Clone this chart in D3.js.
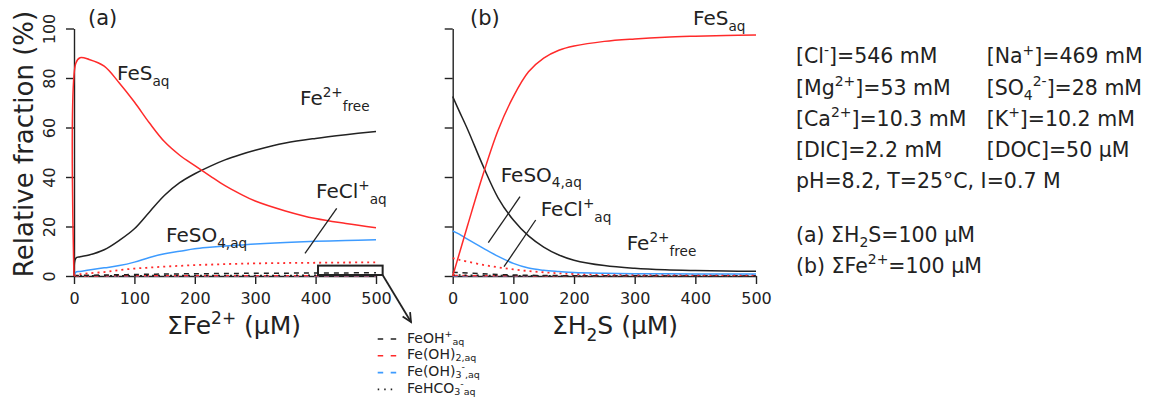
<!DOCTYPE html>
<html>
<head>
<meta charset="utf-8">
<script src="https://cdn.jsdelivr.net/npm/d3@7"></script>
<style>
  html, body { margin: 0; padding: 0; background: #fff; }
  svg { display: block; }
  text { font-family: "DejaVu Sans", Verdana, sans-serif; fill: #222; }
</style>
</head>
<body>
<svg id="chart" width="1154" height="406"></svg>
<script>
// ---------- DATA ----------
// Panel (a): x = ΣFe2+ (µM), ΣH2S = 100 µM
const xA        = [0, 3, 10, 25, 50, 75, 100, 125, 150, 175, 200, 225, 250, 275, 300, 350, 400, 450, 500];
const feS_A     = [0, 86, 88.2, 87.5, 84.8, 78, 70.3, 61.8, 54.2, 48.8, 44.6, 40.5, 36.5, 33.2, 30.3, 26.3, 23.2, 21.2, 19.5];
const fe2_A     = [0, 7.2, 7.8, 8.5, 10.6, 14.4, 19.1, 25.9, 32.6, 37.7, 41.3, 44.3, 46.9, 49.0, 50.8, 53.7, 55.6, 57.1, 58.4];
const feSO4_A   = [0, 1.6, 1.8, 2.4, 3.3, 4.2, 5.6, 7.5, 9.0, 10.0, 11.0, 11.6, 12.1, 12.5, 12.9, 13.5, 14.0, 14.3, 14.6];
const feCl_A    = [0, 0.5, 0.7, 1.1, 1.6, 2.4, 3.0, 3.4, 3.8, 4.1, 4.4, 4.6, 4.8, 4.95, 5.1, 5.25, 5.35, 5.45, 5.5];
const feOH_A    = [0, 0.2, 0.25, 0.3, 0.4, 0.5, 0.6, 0.7, 0.8, 0.85, 0.9, 0.95, 1.0, 1.05, 1.1, 1.15, 1.2, 1.25, 1.3];
const feOH2_A   = [0, 0.02, 0.03, 0.04, 0.05, 0.06, 0.07, 0.08, 0.09, 0.1, 0.1, 0.11, 0.11, 0.12, 0.12, 0.13, 0.13, 0.14, 0.14];
const feOH3_A   = [0, 0, 0, 0, 0, 0, 0, 0, 0, 0, 0, 0, 0, 0, 0, 0, 0, 0, 0];
const feHCO3_A  = [0, 0.05, 0.06, 0.08, 0.1, 0.12, 0.14, 0.16, 0.18, 0.19, 0.2, 0.21, 0.22, 0.23, 0.24, 0.25, 0.26, 0.27, 0.28];

// Panel (b): x = ΣH2S (µM), ΣFe2+ = 100 µM
const xB        = [0, 10, 25, 50, 75, 100, 125, 150, 175, 200, 250, 300, 350, 400, 450, 500];
const feS_B     = [0, 8.3, 20.8, 41, 59, 72.5, 82.5, 88, 91.2, 92.9, 94.8, 95.8, 96.5, 96.9, 97.2, 97.4];
const fe2_B     = [72.5, 67, 59, 44.5, 31.5, 22.6, 16.2, 11.7, 8.5, 6.4, 4.2, 3.1, 2.5, 2.2, 2.0, 1.9];
const feSO4_B   = [18.2, 17, 14.8, 11.3, 7.9, 5.1, 3.2, 2.3, 1.8, 1.4, 1.1, 0.95, 0.9, 0.85, 0.8, 0.8];
const feCl_B    = [7.2, 6.6, 5.8, 4.5, 3.5, 2.7, 2.0, 1.5, 1.1, 0.8, 0.6, 0.5, 0.45, 0.4, 0.4, 0.4];
const feOH_B    = [1.5, 1.4, 1.2, 0.9, 0.6, 0.4, 0.3, 0.2, 0.15, 0.1, 0.08, 0.06, 0.05, 0.05, 0.05, 0.05];
const feOH2_B   = [0.2, 0.18, 0.15, 0.12, 0.09, 0.07, 0.05, 0.04, 0.03, 0.03, 0.02, 0.02, 0.02, 0.02, 0.02, 0.02];
const feOH3_B   = [0, 0, 0, 0, 0, 0, 0, 0, 0, 0, 0, 0, 0, 0, 0, 0];
const feHCO3_B  = [0.4, 0.37, 0.33, 0.26, 0.19, 0.13, 0.09, 0.07, 0.05, 0.04, 0.03, 0.02, 0.02, 0.02, 0.02, 0.02];

const xTicks = [0, 100, 200, 300, 400, 500];
const yTicks = [0, 20, 40, 60, 80, 100];

const conditionsLeft  = [
  [["[Cl"], ["-", "sup"], ["]=546 mM"]],
  [["[Mg"], ["2+", "sup"], ["]=53 mM"]],
  [["[Ca"], ["2+", "sup"], ["]=10.3 mM"]],
  [["[DIC]=2.2 mM"]],
];
const conditionsRight = [
  [["[Na"], ["+", "sup"], ["]=469 mM"]],
  [["[SO"], ["4", "sub"], ["2-", "sup"], ["]=28 mM"]],
  [["[K"], ["+", "sup"], ["]=10.2 mM"]],
  [["[DOC]=50 µM"]],
];
const conditionsLine = [["pH=8.2, T=25°C, I=0.7 M"]];
const panelNotes = [
  [["(a) ΣH"], ["2", "sub"], ["S=100 µM"]],
  [["(b) ΣFe"], ["2+", "sup"], ["=100 µM"]],
];

// ---------- STYLE ----------
const RED = "#ff2a2a", BLUE = "#3d9bff", BLACK = "#222";
const svg = d3.select("#chart");

function rich(g, x, y, parts, size, anchor, subOff) {
  const t = g.append("text").attr("x", x).attr("y", y)
    .attr("font-size", size).attr("text-anchor", anchor || "start");
  let cur = 0;
  parts.forEach(p => {
    const type = p[1] || "n";
    let off = 0, fs = size;
    if (type === "sup") { off = -0.42 * size; fs = size * 0.68; }
    if (type === "sub") { off = (subOff || 0.28) * size; fs = size * 0.68; }
    t.append("tspan").attr("dy", off - cur).attr("font-size", fs).text(p[0]);
    cur = off;
  });
  return t;
}

const y = d3.scaleLinear().domain([0, 100]).range([276, 28.5]);
const xa = d3.scaleLinear().domain([0, 500]).range([74, 376]);
const xb = d3.scaleLinear().domain([0, 500]).range([452.7, 756]);

function drawAxes(x, showLabels) {
  const gx = svg.append("g").attr("transform", `translate(0,${y(0)})`)
    .call(d3.axisBottom(x).tickValues(xTicks).tickSize(8).tickSizeOuter(0).tickPadding(9));
  gx.selectAll("text").attr("font-size", 16).attr("font-family", "DejaVu Sans").attr("fill", "#222");
  gx.selectAll("line,path").attr("stroke", "#222").attr("stroke-width", 1.4);
  const gy = svg.append("g").attr("transform", `translate(${x(0)},0)`)
    .call(d3.axisLeft(y).tickValues(yTicks).tickSize(8).tickSizeOuter(0));
  gy.selectAll("line,path").attr("stroke", "#222").attr("stroke-width", 1.4);
  gy.selectAll("text").remove();
  if (showLabels) {
    gy.selectAll(".tick").append("text")
      .attr("transform", "translate(-19,0) rotate(-90)")
      .attr("text-anchor", "middle").attr("font-size", 16)
      .attr("font-family", "DejaVu Sans").attr("fill", "#222")
      .text(d => d);
  }
}

function drawLine(x, xs, ys, color, dash, width) {
  const line = d3.line().x((d, i) => x(xs[i])).y(d => y(d)).curve(d3.curveCatmullRom.alpha(0.5));
  svg.append("path").datum(ys).attr("d", line).attr("fill", "none")
    .attr("stroke", color).attr("stroke-width", width || 1.5)
    .attr("stroke-dasharray", dash || null);
}

const DASH = "5,5", DOT = "2,4";

// Panel (a)
drawAxes(xa, true);
drawLine(xa, xA, feOH3_A, BLUE, DASH);
drawLine(xa, xA, feOH2_A, RED, DASH);
drawLine(xa, xA, feHCO3_A, BLACK, DOT);
drawLine(xa, xA, feOH_A, BLACK, DASH);
drawLine(xa, xA, feCl_A, RED, DOT, 1.8);
drawLine(xa, xA, feSO4_A, BLUE);
drawLine(xa, xA, fe2_A, BLACK);
drawLine(xa, xA, feS_A, RED);

// Panel (b)
drawAxes(xb, false);
drawLine(xb, xB, feOH3_B, BLUE, DASH);
drawLine(xb, xB, feOH2_B, RED, DASH);
drawLine(xb, xB, feHCO3_B, BLACK, DOT);
drawLine(xb, xB, feOH_B, BLACK, DASH);
drawLine(xb, xB, feCl_B, RED, DOT, 1.8);
drawLine(xb, xB, feSO4_B, BLUE);
drawLine(xb, xB, fe2_B, BLACK);
drawLine(xb, xB, feS_B, RED);

// Axis titles
svg.append("text").attr("transform", "translate(33,144) rotate(-90)")
  .attr("text-anchor", "middle").attr("font-size", 26).text("Relative fraction (%)");
rich(svg, 234, 334, [["ΣFe"], ["2+", "sup"], [" (µM)"]], 25, "middle");
rich(svg, 615, 334, [["ΣH"], ["2", "sub"], ["S (µM)"]], 25, "middle");

// Panel labels
svg.append("text").attr("x", 88).attr("y", 25).attr("font-size", 21).text("(a)");
svg.append("text").attr("x", 470).attr("y", 25).attr("font-size", 21).text("(b)");

// Curve labels panel (a)
rich(svg, 117, 80, [["FeS"], ["aq", "sub"]], 20);
rich(svg, 300, 105, [["Fe"], ["2+", "sup"], ["free", "sub"]], 20);
rich(svg, 316, 198, [["FeCl"], ["+", "sup"], ["aq", "sub"]], 20);
rich(svg, 166, 242, [["FeSO"], ["4,aq", "sub"]], 20);
svg.append("line").attr("x1", 336.7).attr("y1", 208.3).attr("x2", 305).attr("y2", 253.3)
  .attr("stroke", BLACK).attr("stroke-width", 1.3);

// Curve labels panel (b)
rich(svg, 693, 25, [["FeS"], ["aq", "sub"]], 20);
rich(svg, 500.7, 181.7, [["FeSO"], ["4,aq", "sub"]], 20);
rich(svg, 540.7, 216, [["FeCl"], ["+", "sup"], ["aq", "sub"]], 20);
rich(svg, 626.7, 250, [["Fe"], ["2+", "sup"], ["free", "sub"]], 20);
svg.append("line").attr("x1", 520).attr("y1", 196.7).attr("x2", 488.3).attr("y2", 242.7)
  .attr("stroke", BLACK).attr("stroke-width", 1.3);
svg.append("line").attr("x1", 535.7).attr("y1", 220).attr("x2", 504).attr("y2", 266.7)
  .attr("stroke", BLACK).attr("stroke-width", 1.3);

// Zoom box and arrow in panel (a)
svg.append("rect").attr("x", xa(404)).attr("y", y(4.2))
  .attr("width", xa(511) - xa(404)).attr("height", y(0.4) - y(4.2))
  .attr("fill", "none").attr("stroke", BLACK).attr("stroke-width", 2);
const ax1 = xa(511), ay1 = y(0.4), ax2 = 411, ay2 = 322;
svg.append("line").attr("x1", ax1).attr("y1", ay1).attr("x2", ax2).attr("y2", ay2)
  .attr("stroke", BLACK).attr("stroke-width", 1.8);
{
  const ang = Math.atan2(ay2 - ay1, ax2 - ax1), L = 10, spread = 0.45;
  const p = [[ax2 - L * Math.cos(ang - spread), ay2 - L * Math.sin(ang - spread)], [ax2, ay2],
             [ax2 - L * Math.cos(ang + spread), ay2 - L * Math.sin(ang + spread)]];
  svg.append("path").attr("d", d3.line()(p)).attr("fill", "none")
    .attr("stroke", BLACK).attr("stroke-width", 1.8);
}

// Legend for minor species
const legendItems = [
  { parts: [["FeOH"], ["+", "sup"], ["aq", "sub"]], color: BLACK, dash: "5.5,7.5" },
  { parts: [["Fe(OH)"], ["2,aq", "sub"]], color: RED, dash: "5.5,7.5" },
  { parts: [["Fe(OH)"], ["3", "sub"], ["-", "sup"], [",aq", "sub"]], color: BLUE, dash: "5.5,7.5" },
  { parts: [["FeHCO"], ["3", "sub"], ["-", "sup"], ["aq", "sub"]], color: BLACK, dash: "1.5,5" },
];
legendItems.forEach((it, i) => {
  const cy = 339 + i * 16.8;
  svg.append("line").attr("x1", 377.7).attr("x2", 397).attr("y1", cy).attr("y2", cy)
    .attr("stroke", it.color).attr("stroke-width", 1.6).attr("stroke-dasharray", it.dash);
  rich(svg, 407, cy + 3.5, it.parts, 14, "start", 0.15);
});

// Conditions text block
conditionsLeft.forEach((parts, i) => rich(svg, 796, 63.3 + i * 31.2, parts, 20.5));
conditionsRight.forEach((parts, i) => rich(svg, 986.7, 63.3 + i * 31.2, parts, 20.5));
rich(svg, 796, 188.3, conditionsLine, 20.5);
panelNotes.forEach((parts, i) => rich(svg, 796, 241.7 + i * 31, parts, 20.5));
</script>
</body>
</html>
